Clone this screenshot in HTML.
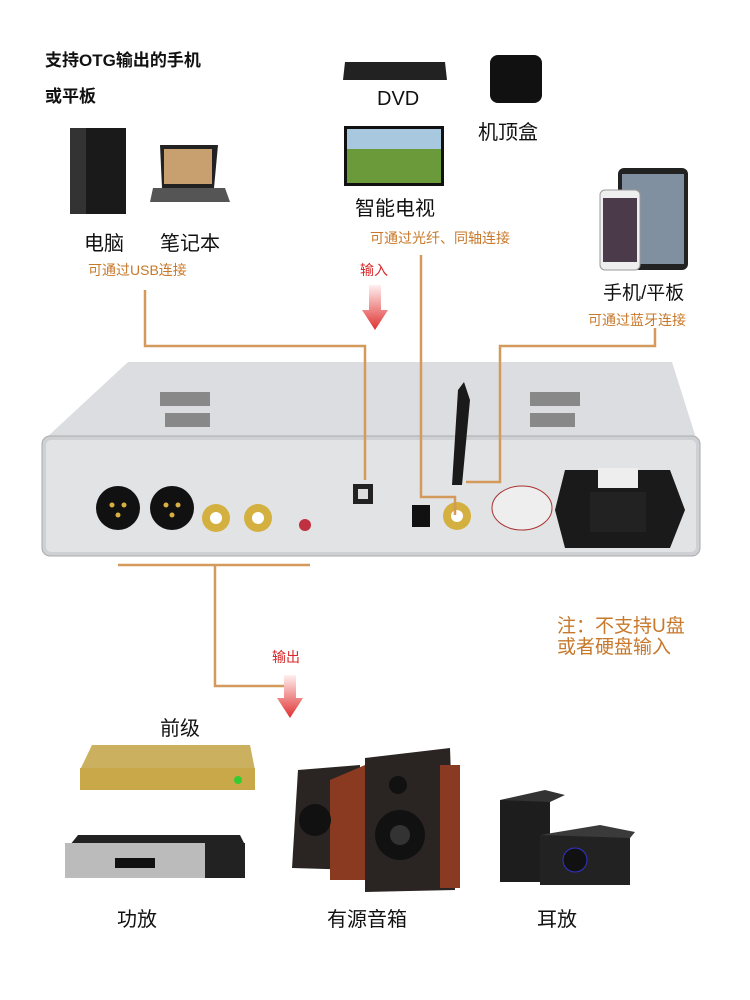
<!DOCTYPE html>
<html><head><meta charset="utf-8"><style>
body{margin:0;width:750px;height:1000px;background:#fff;position:relative;overflow:hidden;font-family:"Liberation Sans","Noto Sans CJK SC",sans-serif}
.t{position:absolute;white-space:nowrap;color:#111}
.o{color:#c8782a}
.r{color:#d8282a}
</style></head><body>
<svg width="750" height="1000" style="position:absolute;left:0;top:0">
<!-- PC -->
<rect x="70" y="128" width="56" height="86" fill="#1a1a1a"/><rect x="70" y="128" width="16" height="86" fill="#333"/>
<!-- laptop -->
<polygon points="160,145 218,145 214,188 162,188" fill="#222"/><rect x="164" y="149" width="48" height="35" fill="#c8a070"/>
<polygon points="153,188 225,188 230,202 150,202" fill="#555"/>
<!-- DVD -->
<polygon points="345,62 445,62 447,80 343,80" fill="#222"/>
<!-- apple tv -->
<rect x="490" y="55" width="52" height="48" rx="8" fill="#111"/>
<!-- TV -->
<rect x="344" y="126" width="100" height="60" fill="#111"/><rect x="347" y="129" width="94" height="54" fill="#6a9a3a"/><rect x="347" y="129" width="94" height="20" fill="#a8c8e0"/>
<!-- phones -->
<rect x="618" y="168" width="70" height="102" rx="6" fill="#222"/><rect x="622" y="174" width="62" height="90" fill="#8090a0"/>
<rect x="600" y="190" width="40" height="80" rx="5" fill="#eee" stroke="#999"/><rect x="603" y="198" width="34" height="64" fill="#4a3a4a"/>
<!-- device top -->
<polygon points="128,362 672,362 696,438 46,438" fill="#dcdde0"/>
<rect x="42" y="436" width="658" height="120" rx="8" fill="#cfd0d3" stroke="#aaa"/>
<rect x="46" y="440" width="650" height="112" rx="5" fill="#e2e3e5"/>
<g fill="#888"><rect x="160" y="392" width="50" height="14"/><rect x="165" y="413" width="45" height="14"/><rect x="530" y="392" width="50" height="14"/><rect x="530" y="413" width="45" height="14"/></g>
<!-- connectors -->
<circle cx="118" cy="508" r="22" fill="#111"/><circle cx="172" cy="508" r="22" fill="#111"/>
<g fill="#d8b040"><circle cx="112" cy="505" r="2.5"/><circle cx="124" cy="505" r="2.5"/><circle cx="118" cy="515" r="2.5"/><circle cx="166" cy="505" r="2.5"/><circle cx="178" cy="505" r="2.5"/><circle cx="172" cy="515" r="2.5"/></g>
<circle cx="216" cy="518" r="14" fill="#d4b040"/><circle cx="216" cy="518" r="6" fill="#fff"/>
<circle cx="258" cy="518" r="14" fill="#d4b040"/><circle cx="258" cy="518" r="6" fill="#fff"/>
<circle cx="305" cy="525" r="6" fill="#c03040"/>
<rect x="353" y="484" width="20" height="20" fill="#222"/><rect x="358" y="489" width="10" height="10" fill="#ddd"/>
<rect x="412" y="505" width="18" height="22" fill="#111"/>
<circle cx="457" cy="516" r="14" fill="#d4b040"/><circle cx="457" cy="516" r="6" fill="#fff"/>
<polygon points="452,485 462,485 470,400 464,382 458,390" fill="#1a1a1a"/>
<ellipse cx="522" cy="508" rx="30" ry="22" fill="#eee" stroke="#a33"/>
<polygon points="565,470 670,470 685,510 670,548 565,548 555,510" fill="#1a1a1a"/>
<rect x="598" y="468" width="40" height="20" fill="#eee"/><rect x="590" y="492" width="56" height="40" fill="#222"/>
<!-- lines -->
<g stroke="#d49a5c" stroke-width="2.5" fill="none">
<polyline points="145,290 145,346 365,346 365,480"/>
<polyline points="421,255 421,497 455,497 455,515"/>
<polyline points="655,328 655,346 500,346 500,482 466,482"/>
<polyline points="118,565 310,565"/>
<polyline points="215,565 215,686 290,686"/>
</g>
<!-- arrows -->
<defs><linearGradient id="g" x1="0" y1="0" x2="0" y2="1"><stop offset="0" stop-color="#fff0f0"/><stop offset="1" stop-color="#e03030"/></linearGradient></defs>
<polygon points="369,285 381,285 381,310 388,310 375,330 362,310 369,310" fill="url(#g)"/>
<polygon points="284,675 296,675 296,698 303,698 290,718 277,698 284,698" fill="url(#g)"/>
<!-- preamp -->
<polygon points="92,745 250,745 255,770 80,770" fill="#cbb060"/><rect x="80" y="768" width="175" height="22" fill="#c8a848"/>
<circle cx="238" cy="780" r="4" fill="#3c3"/>
<!-- power amp -->
<polygon points="78,835 240,835 245,845 70,845" fill="#222"/><rect x="65" y="843" width="180" height="35" fill="#bbb"/><rect x="205" y="843" width="40" height="35" fill="#222"/><rect x="115" y="858" width="40" height="10" fill="#111"/>
<!-- speakers -->
<polygon points="298,770 360,765 360,870 292,868" fill="#2a2522"/><polygon points="330,780 365,765 365,880 330,880" fill="#8a3a20"/>
<circle cx="315" cy="820" r="16" fill="#111"/>
<polygon points="365,758 450,748 455,890 365,892" fill="#2a2522"/><polygon points="440,765 460,765 460,888 440,888" fill="#8a3a22"/>
<circle cx="400" cy="835" r="25" fill="#111"/><circle cx="400" cy="835" r="10" fill="#333"/><circle cx="398" cy="785" r="9" fill="#111"/>
<!-- headphone amp -->
<rect x="500" y="800" width="50" height="82" fill="#1d1d1d"/><polygon points="500,800 545,790 565,795 550,802" fill="#333"/>
<rect x="540" y="835" width="90" height="50" fill="#222"/><polygon points="540,835 600,825 635,832 630,838" fill="#3a3a3a"/>
<circle cx="575" cy="860" r="12" fill="#111" stroke="#33c"/>
</svg>
<div class="t" style="left:45px;top:46px;font-size:17px;font-weight:bold">支持OTG输出的手机</div>
<div class="t" style="left:45px;top:82px;font-size:17px;font-weight:bold">或平板</div>
<div class="t" style="left:84px;top:227px;font-size:20px">电脑</div>
<div class="t" style="left:160px;top:227px;font-size:20px">笔记本</div>
<div class="t o" style="left:88px;top:260px;font-size:14px">可通过USB连接</div>
<div class="t" style="left:377px;top:88px;font-size:20px">DVD</div>
<div class="t" style="left:478px;top:116px;font-size:20px">机顶盒</div>
<div class="t" style="left:355px;top:192px;font-size:20px">智能电视</div>
<div class="t o" style="left:370px;top:228px;font-size:14px">可通过光纤、同轴连接</div>
<div class="t r" style="left:360px;top:260px;font-size:14px">输入</div>
<div class="t" style="left:603px;top:278px;font-size:19px">手机/平板</div>
<div class="t o" style="left:588px;top:310px;font-size:14px">可通过蓝牙连接</div>
<div class="t o" style="left:557px;top:616px;font-size:19px;line-height:21px">注：不支持U盘<br>或者硬盘输入</div>
<div class="t r" style="left:272px;top:647px;font-size:14px">输出</div>
<div class="t" style="left:160px;top:712px;font-size:20px">前级</div>
<div class="t" style="left:117px;top:903px;font-size:20px">功放</div>
<div class="t" style="left:327px;top:903px;font-size:20px">有源音箱</div>
<div class="t" style="left:537px;top:903px;font-size:20px">耳放</div>
</body></html>
